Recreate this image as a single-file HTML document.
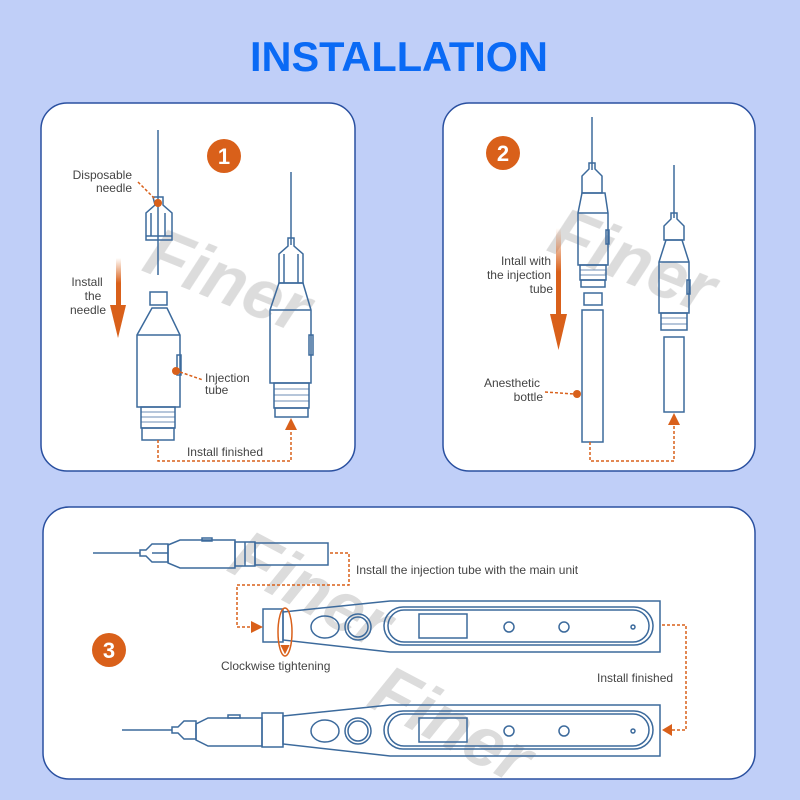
<!DOCTYPE html>
<html><head><meta charset="utf-8"><style>
html,body{margin:0;padding:0;background:#c0cff8}
svg{display:block}
text{font-family:"Liberation Sans",sans-serif}
</style></head><body>
<svg width="800" height="800" viewBox="0 0 800 800" xmlns="http://www.w3.org/2000/svg">
<defs>
<linearGradient id="ag" x1="0" y1="0" x2="0" y2="1"><stop offset="0" stop-color="#d9601a" stop-opacity="0"/><stop offset="0.5" stop-color="#d9601a"/></linearGradient>
<marker id="ah" viewBox="0 0 10 10" refX="9" refY="5" markerWidth="5" markerHeight="5" orient="auto"><path d="M0,0L10,5L0,10z" fill="#d9601a"/></marker>
</defs>
<rect width="800" height="800" fill="#c0cff8"/>
<text x="399" y="71" text-anchor="middle" font-size="42" font-weight="bold" fill="#0a6af5" textLength="298" lengthAdjust="spacingAndGlyphs">INSTALLATION</text>

<rect x="41" y="103" width="314" height="368" rx="26" fill="#fff" stroke="#2a50a0" stroke-width="1.5"/>
<rect x="443" y="103" width="312" height="368" rx="26" fill="#fff" stroke="#2a50a0" stroke-width="1.5"/>
<rect x="43" y="507" width="712" height="272" rx="26" fill="#fff" stroke="#2a50a0" stroke-width="1.5"/>

<!-- watermarks -->
<g fill="#d4d4d4" font-weight="bold" font-style="italic" font-size="70" opacity="0.8">
<text transform="translate(140,270) rotate(22)">Finer</text>
<text transform="translate(545,250) rotate(22)">Finer</text>
<text transform="translate(225,570) rotate(28)">Finer</text>
<text transform="translate(365,705) rotate(28)">Finer</text>
</g>

<g fill="none" stroke="#3c6a9c" stroke-width="1.5">
<!-- panel 1 left -->
<line x1="158" y1="130" x2="158" y2="275"/>
<path d="M153,197h10v8l9,8v27h-26v-27l9,-8z"/>
<line x1="146" y1="236" x2="172" y2="236"/><line x1="151" y1="213" x2="151" y2="236"/><line x1="165" y1="213" x2="165" y2="236"/>
<rect x="150" y="292" width="17" height="13"/>
<path d="M152,308h15l13,27v72h-43v-72z"/>
<line x1="137" y1="335" x2="180" y2="335"/>
<rect x="177" y="355" width="4" height="20"/>
<rect x="141" y="407" width="34" height="21"/>
<path d="M141,412h34M141,417h34M141,422h34" stroke-width="0.8"/>
<rect x="142" y="428" width="32" height="12"/>
<!-- panel 1 right -->
<line x1="291" y1="172" x2="291" y2="245"/>
<path d="M288,238h6v8l9,8v29h-24v-29l9,-8z"/>
<line x1="284" y1="254" x2="284" y2="283"/><line x1="298" y1="254" x2="298" y2="283"/>
<path d="M279,283h24l8,27v73h-41v-73z"/>
<line x1="270" y1="310" x2="311" y2="310"/>
<rect x="309" y="335" width="4" height="20"/>
<rect x="274" y="383" width="35" height="25"/>
<path d="M274,389h35M274,395h35M274,401h35" stroke-width="0.8"/>
<rect x="275" y="408" width="33" height="9"/>

<!-- panel 2 left -->
<line x1="592" y1="117" x2="592" y2="170"/>
<path d="M589,163h6v6l7,7v17h-20v-17l7,-7z"/>
<path d="M582,193h23l3,20v52h-30v-52z"/>
<line x1="578" y1="213" x2="608" y2="213"/>
<rect x="606" y="230" width="3" height="14"/>
<rect x="580" y="265" width="26" height="15"/>
<path d="M580,270h26M580,275h26" stroke-width="0.8"/>
<rect x="581" y="280" width="24" height="7"/>
<rect x="584" y="293" width="18" height="12"/>
<rect x="582" y="310" width="21" height="132"/>
<!-- panel 2 right -->
<line x1="674" y1="165" x2="674" y2="218"/>
<path d="M671,213h6v6l7,7v14h-20v-14l7,-7z"/>
<path d="M666,240h16l7,22v51h-30v-51z"/>
<line x1="659" y1="262" x2="689" y2="262"/>
<rect x="687" y="280" width="3" height="14"/>
<rect x="661" y="313" width="26" height="17"/>
<path d="M661,318h26M661,324h26" stroke-width="0.8"/>
<rect x="664" y="337" width="20" height="75"/>

<!-- panel 3 top device -->
<line x1="93" y1="553" x2="140" y2="553"/>
<path d="M140,550h6l6,-6h16v18h-16l-6,-6h-6z"/>
<line x1="152" y1="553" x2="168" y2="553"/>
<path d="M168,545l12,-5h55v28h-55l-12,-5z"/>
<rect x="202" y="538" width="10" height="3"/>
<rect x="235" y="542" width="20" height="24"/>
<line x1="245" y1="542" x2="245" y2="566"/>
<rect x="255" y="543" width="73" height="22"/>

<!-- main unit top -->
<rect x="263" y="609" width="20" height="33"/>
<path d="M283,612L390,601H660V652H390L283,640z"/>
<rect x="384" y="607" width="269" height="38" rx="19"/>
<rect x="388" y="610" width="261" height="32" rx="16"/>
<rect x="419" y="614" width="48" height="24"/>
<circle cx="509" cy="627" r="5"/><circle cx="564" cy="627" r="5"/><circle cx="633" cy="627" r="2"/>
<ellipse cx="325" cy="627" rx="14" ry="11"/>
<circle cx="358" cy="627" r="13"/><circle cx="358" cy="627" r="10"/>

<!-- bottom device -->
<line x1="122" y1="730" x2="172" y2="730"/>
<path d="M172,727h6l6,-6h12v18h-12l-6,-6h-6z"/>
<path d="M196,724l12,-6h54v28h-54l-12,-6z"/>
<rect x="228" y="715" width="12" height="3"/>
<rect x="262" y="713" width="21" height="34"/>
<path d="M283,716L390,705H660V756H390L283,744z"/>
<rect x="384" y="711" width="269" height="38" rx="19"/>
<rect x="388" y="714" width="261" height="32" rx="16"/>
<rect x="419" y="718" width="48" height="24"/>
<circle cx="509" cy="731" r="5"/><circle cx="564" cy="731" r="5"/><circle cx="633" cy="731" r="2"/>
<ellipse cx="325" cy="731" rx="14" ry="11"/>
<circle cx="358" cy="731" r="13"/><circle cx="358" cy="731" r="10"/>
</g>

<!-- orange elements -->
<g fill="#d9601a">
<circle cx="224" cy="156" r="17"/><circle cx="503" cy="153" r="17"/><circle cx="109" cy="650" r="17"/>
<rect x="116" y="258" width="5" height="50" fill="url(#ag)"/>
<path d="M110,305h16l-8,33z"/>
<rect x="556" y="228" width="5" height="88" fill="url(#ag)"/>
<path d="M550,314h17l-8.5,36z"/>
<circle cx="158" cy="203" r="4"/><circle cx="176" cy="371" r="4"/><circle cx="577" cy="394" r="4"/>
<path d="M285,430l6,-12l6,12z"/><path d="M668,425l6,-12l6,12z"/>
<path d="M251,621l12,6l-12,6z"/><path d="M672,724l-10,6l10,6z"/>
</g>
<g fill="none" stroke="#d9601a" stroke-width="1.5" stroke-dasharray="3,2">
<path d="M138,182L156,200"/><path d="M180,372L203,380"/><path d="M545,392L574,394"/>
<path d="M158,440V461H291V430"/>
<path d="M590,442V461H674V425"/>
<path d="M330,553H349V585H237V627H251"/>
<path d="M662,625H686V730H672"/>
</g>
<ellipse cx="285" cy="632" rx="7" ry="24" fill="none" stroke="#d9601a" stroke-width="1.5"/>
<path d="M288,646l-3,6l-3,-6z" fill="#d9601a" stroke="#d9601a" stroke-width="2"/>

<g fill="#fff" font-weight="bold" font-size="22" text-anchor="middle">
<text x="224" y="164">1</text><text x="503" y="161">2</text><text x="109" y="658">3</text>
</g>

<g fill="#444" font-size="12">
<text x="132" y="179" text-anchor="end">Disposable</text>
<text x="132" y="192" text-anchor="end">needle</text>
<text x="87" y="286" text-anchor="middle">Install</text>
<text x="93" y="300" text-anchor="middle">the</text>
<text x="88" y="314" text-anchor="middle">needle</text>
<text x="205" y="382">Injection</text>
<text x="205" y="394">tube</text>
<text x="225" y="456" text-anchor="middle">Install finished</text>
<text x="551" y="265" text-anchor="end">Intall with</text>
<text x="551" y="279" text-anchor="end">the injection</text>
<text x="553" y="293" text-anchor="end">tube</text>
<text x="540" y="387" text-anchor="end">Anesthetic</text>
<text x="543" y="401" text-anchor="end">bottle</text>
<text x="356" y="574">Install the injection tube with the main unit</text>
<text x="221" y="670">Clockwise tightening</text>
<text x="597" y="682">Install finished</text>
</g>
</svg>
</body></html>
